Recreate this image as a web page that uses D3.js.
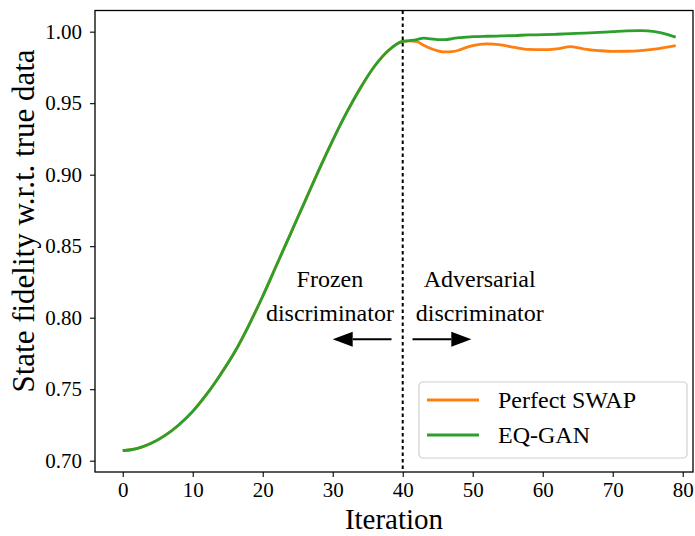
<!DOCTYPE html>
<html lang="en">
<head>
    <meta charset="UTF-8">
    <title>State fidelity</title>
    <script src="https://cdn.jsdelivr.net/npm/d3@7"></script>
    <style>
        body { margin: 0; background: #fff; }
        svg text { font-family: "Liberation Serif", "Times New Roman", serif !important; fill: #000; }
        .tick line { stroke: #000; }
        .domain { display: none; }
    </style>
</head>
<body>
<svg id="chart" width="695" height="536"></svg>
<script>
    // shared warm-up phase (frozen discriminator), iterations 0..40
    let warmIters  = [0, 2, 4, 6, 8, 10, 12, 14, 16, 18, 20, 22, 24, 26, 28, 30, 32, 34, 36, 38, 40];
    let warmValues = [0.7070, 0.7085, 0.7120, 0.7175, 0.7250, 0.7345, 0.7465, 0.7605, 0.7760, 0.7945,
                      0.8150, 0.8370, 0.8590, 0.8810, 0.9030, 0.9240, 0.9435, 0.9610, 0.9760, 0.9870, 0.9932];

    // adversarial phase
    let swapIters  = [41, 42, 43, 44, 45, 46, 47, 48, 49, 50, 52, 54, 56, 58, 60, 62, 64, 65, 66, 68, 70, 72, 74, 76, 78, 79];
    let swapValues = [0.9935, 0.9930, 0.9905, 0.9882, 0.9866, 0.9858, 0.9860, 0.9870, 0.9888, 0.9903,
                      0.9915, 0.9908, 0.9890, 0.9876, 0.9874, 0.9880, 0.9895, 0.9888, 0.9878, 0.9868,
                      0.9862, 0.9863, 0.9868, 0.9878, 0.9894, 0.9902];

    let eqIters  = [41, 42, 43, 44, 45, 46, 47, 48, 50, 52, 54, 56, 58, 60, 62, 64, 66, 68, 70, 72, 74, 76, 78, 79];
    let eqValues = [0.9938, 0.9945, 0.9955, 0.9950, 0.9945, 0.9945, 0.9950, 0.9958, 0.9965, 0.9968,
                    0.9970, 0.9973, 0.9977, 0.9979, 0.9982, 0.9986, 0.9990, 0.9995, 1.0000, 1.0005,
                    1.0007, 1.0000, 0.9978, 0.9962];

    let seriesNames  = ['Perfect SWAP', 'EQ-GAN'];
    let seriesColors = ['#ff7f0e', '#2ca02c'];
    let xTicks = [0, 10, 20, 30, 40, 50, 60, 70, 80];
    let yTicks = [0.70, 0.75, 0.80, 0.85, 0.90, 0.95, 1.00];
    let switchIter = 40;

    function toPoints(xs, ys) { return xs.map(function (x, i) { return {x: x, y: ys[i]}; }); }
    let series = [
        toPoints(warmIters.concat(swapIters), warmValues.concat(swapValues)),
        toPoints(warmIters.concat(eqIters), warmValues.concat(eqValues))
    ];

    let serif = '"Liberation Serif", "Times New Roman", serif';
    let svg = d3.select('svg#chart');
    let box = {left: 95, right: 693, top: 10.5, bottom: 472};

    let xScale = d3.scaleLinear().domain([-3.96, 81.47]).range([box.left, box.right]);
    let yScale = d3.scaleLinear().domain([0.6921, 1.0148]).range([box.bottom, box.top]);

    // axes
    let xAxis = svg.append('g')
        .attr('transform', 'translate(0,' + box.bottom + ')')
        .call(d3.axisBottom(xScale).tickValues(xTicks).tickSize(5).tickPadding(5).tickFormat(d3.format('d')));
    let yAxis = svg.append('g')
        .attr('transform', 'translate(' + box.left + ',0)')
        .call(d3.axisLeft(yScale).tickValues(yTicks).tickSize(5).tickPadding(8).tickFormat(d3.format('.2f')));
    [xAxis, yAxis].forEach(function (ax) {
        ax.attr('font-family', serif).attr('font-size', 21);
        ax.selectAll('text').style('font-family', serif).style('font-size', '21px');
    });
    svg.selectAll('.tick line').attr('stroke-width', 1.1);

    // lines
    let line = d3.line()
        .x(function (d) { return xScale(d.x); })
        .y(function (d) { return yScale(d.y); })
        .curve(d3.curveMonotoneX);

    svg.selectAll('path.series')
        .data(series)
        .enter()
        .append('path')
        .attr('class', 'series')
        .attr('fill', 'none')
        .attr('stroke', function (d, i) { return seriesColors[i]; })
        .attr('stroke-width', 2.8)
        .attr('d', line);

    // switch marker
    svg.append('line')
        .attr('x1', xScale(switchIter)).attr('x2', xScale(switchIter))
        .attr('y1', box.top).attr('y2', box.bottom)
        .attr('stroke', '#000').attr('stroke-width', 2)
        .attr('stroke-dasharray', '3.5,3');

    // spines
    svg.append('rect')
        .attr('x', box.left).attr('y', box.top)
        .attr('width', box.right - box.left).attr('height', box.bottom - box.top)
        .attr('fill', 'none').attr('stroke', '#000').attr('stroke-width', 1.3);

    // annotations
    let notes = [
        {x: 29.6, lines: ['Frozen', 'discriminator']},
        {x: 51.0, lines: ['Adversarial', 'discriminator']}
    ];
    notes.forEach(function (n) {
        n.lines.forEach(function (t, k) {
            svg.append('text')
                .attr('x', xScale(n.x))
                .attr('y', yScale(0.8215) + k * 34)
                .attr('text-anchor', 'middle')
                .style('font-size', '24px')
                .text(t);
        });
    });

    let arrows = [[38.4, 30.0], [41.4, 49.8]];
    let arrowY = yScale(0.785);
    arrows.forEach(function (a) {
        let x0 = xScale(a[0]), x1 = xScale(a[1]);
        let dir = x1 > x0 ? 1 : -1;
        let head = 20;
        svg.append('line')
            .attr('x1', x0).attr('x2', x1 - dir * head)
            .attr('y1', arrowY).attr('y2', arrowY)
            .attr('stroke', '#000').attr('stroke-width', 2);
        svg.append('path')
            .attr('d', 'M' + x1 + ',' + arrowY + 'L' + (x1 - dir * head) + ',' + (arrowY - 7.5) +
                       'L' + (x1 - dir * head) + ',' + (arrowY + 7.5) + 'Z')
            .attr('fill', '#000');
    });

    // axis titles
    svg.append('text')
        .attr('x', (box.left + box.right) / 2).attr('y', 529)
        .attr('text-anchor', 'middle')
        .style('font-size', '29px')
        .text('Iteration');
    svg.append('text')
        .attr('transform', 'translate(34,221) rotate(-90)')
        .attr('text-anchor', 'middle')
        .style('font-size', '31px')
        .text('State fidelity w.r.t. true data');

    // legend
    let legend = svg.append('g').attr('transform', 'translate(419,382)');
    legend.append('rect')
        .attr('width', 268).attr('height', 76).attr('rx', 4)
        .attr('fill', 'rgba(255,255,255,0.8)').attr('stroke', '#d0d0d0').attr('stroke-width', 1.2);
    seriesNames.forEach(function (name, i) {
        let ly = 18 + i * 35;
        legend.append('line')
            .attr('x1', 8).attr('x2', 60).attr('y1', ly).attr('y2', ly)
            .attr('stroke', seriesColors[i]).attr('stroke-width', 2.8);
        legend.append('text')
            .attr('x', 79).attr('y', ly + 8)
            .style('font-size', '24px')
            .text(name);
    });
</script>
</body>
</html>
